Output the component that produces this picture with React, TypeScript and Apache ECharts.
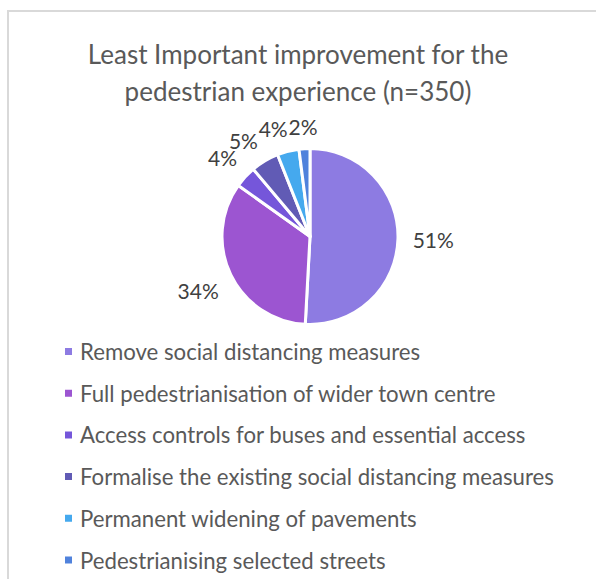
import React, { useEffect, useRef } from "react";
import * as echarts from "echarts";

const titleLines = ["Least Important improvement for the", "pedestrian experience (n=350)"];
const categories = [
  "Remove social distancing measures",
  "Full pedestrianisation of wider town centre",
  "Access controls for buses and essential access",
  "Formalise the existing social distancing measures",
  "Permanent widening of pavements",
  "Pedestrianising selected streets",
];
const counts = [178, 119, 14, 18, 14, 7];
const colors = ["#8D7BE2", "#9C55D1", "#7556DA", "#615BB5", "#45A9EE", "#5082DC"];

const CX = 310;
const CY = 236.5;
const R = 88;
const VIS_R = 86.5;
const LABEL_FONT = 21;
const GAP = 16;
const HV = 7;
const BOX_H = 16;

export default function App() {
  const ref = useRef<HTMLDivElement>(null);
  useEffect(() => {
    document.body.style.margin = "0";
    document.body.style.overflow = "hidden";
    if (!ref.current) return;
    const chart = echarts.init(ref.current, undefined, { renderer: "svg" });
    const total = counts.reduce((a, b) => a + b, 0);
    const texts = counts.map((v) => `${Math.round((v / total) * 100)}%`);
    const mids: number[] = [];
    let acc = 0;
    counts.forEach((v) => {
      mids.push(((acc + v / 2) / total) * 2 * Math.PI);
      acc += v;
    });
    const canvas = document.createElement("canvas");
    const ctx = canvas.getContext("2d");
    const widths = texts.map((t) => {
      if (ctx) {
        ctx.font = `${LABEL_FONT}px Lato`;
        return ctx.measureText(t).width;
      }
      return t.length * 12;
    });
    const place = (a: number, w: number) => {
      const ux = Math.sin(a);
      const uy = -Math.cos(a);
      const half = (Math.abs(ux) * w) / 2 + Math.abs(uy) * HV;
      const d = VIS_R + GAP + half;
      return { x: CX + ux * d, y: CY + uy * d, w, h: BOX_H };
    };
    const placed: { x: number; y: number; w: number; h: number }[] = new Array(counts.length);
    const overlaps = (b: any, o: any) =>
      Math.abs(b.x - o.x) < (b.w + o.w) / 2 && Math.abs(b.y - o.y) < (b.h + o.h) / 2;
    for (let i = counts.length - 1; i >= 0; i--) {
      let a = mids[i];
      let box = place(a, widths[i]);
      let guard = 0;
      while (guard < 80 && placed.some((o) => o && overlaps(box, o))) {
        a -= (0.5 * Math.PI) / 180;
        box = place(a, widths[i]);
        guard++;
      }
      placed[i] = box;
    }
    chart.setOption({
      animation: false,
      backgroundColor: "#ffffff",
      color: colors,
      title: {
        text: titleLines.join("\n"),
        left: 298,
        top: 35,
        textAlign: "center",
        padding: 0,
        textStyle: {
          fontFamily: "Lato",
          fontSize: 26,
          fontWeight: "normal",
          color: "#595959",
          lineHeight: 37,
        },
      },
      legend: {
        orient: "vertical",
        left: 63,
        top: 339.5,
        padding: 0,
        icon: "rect",
        itemWidth: 9,
        itemHeight: 9,
        itemGap: 17.7,
        selectedMode: false,
        data: categories,
        textStyle: {
          fontFamily: "Lato",
          fontSize: 22.2,
          color: "#595959",
          lineHeight: 24,
          padding: [0, 0, 0, 2],
        },
      },
      graphic: [
        {
          type: "rect",
          shape: { x: 8, y: 11, width: 800, height: 800 },
          style: { fill: "none", stroke: "#d9d9d9", lineWidth: 2 },
          silent: true,
        },
      ],
      series: [
        {
          type: "pie",
          center: [CX, CY],
          radius: R,
          startAngle: 90,
          clockwise: true,
          avoidLabelOverlap: false,
          itemStyle: { borderColor: "#ffffff", borderWidth: 3 },
          label: {
            show: true,
            position: "outside",
            formatter: (p: any) => texts[p.dataIndex],
            fontFamily: "Lato",
            fontSize: LABEL_FONT,
            color: "#404040",
          },
          labelLine: { show: false },
          labelLayout: (params: any) => {
            const b = placed[params.dataIndex];
            return { x: b.x, y: b.y, align: "center", verticalAlign: "middle" };
          },
          emphasis: { disabled: true },
          data: categories.map((name, i) => ({ name, value: counts[i] })),
        },
      ],
    });
    return () => chart.dispose();
  }, []);
  return <div ref={ref} style={{ width: 596, height: 579 }} />;
}
